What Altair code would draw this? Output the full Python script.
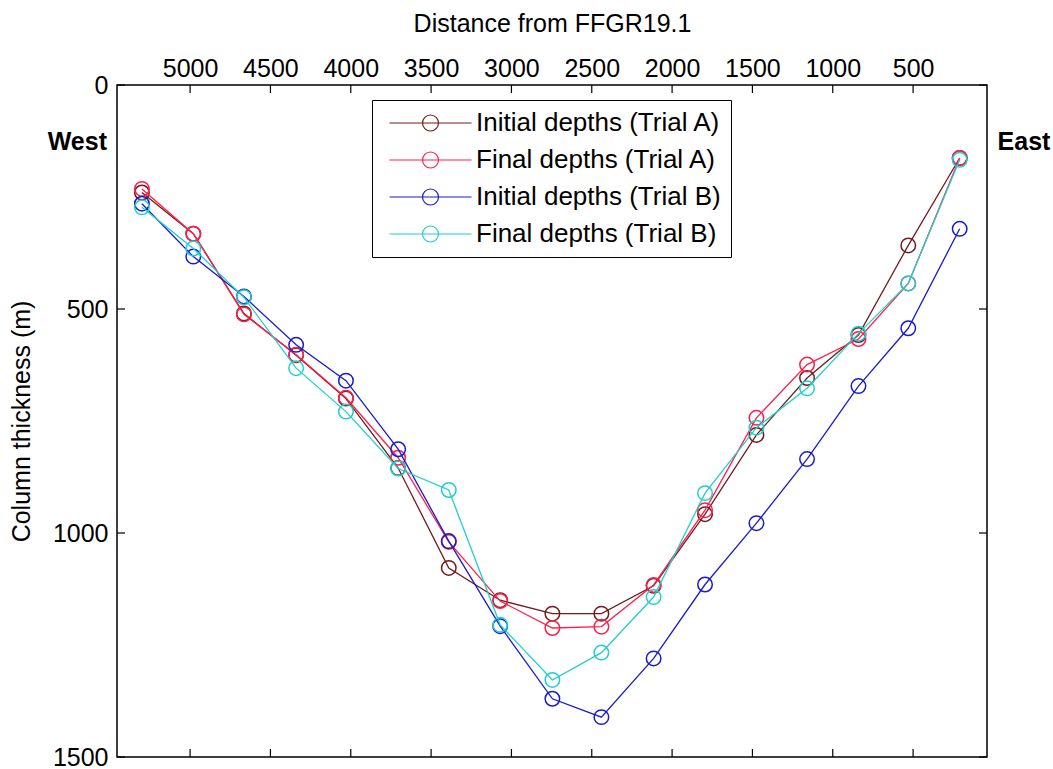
import altair as alt
import pandas as pd

# ---- data ----
distance = [5300, 4980, 4665, 4340, 4030, 3705, 3390, 3070, 2745, 2440, 2115, 1795, 1475, 1160, 840, 530, 210]
initial_a = [240, 332, 510, 603, 700, 855, 1078, 1150, 1180, 1180, 1118, 958, 781, 654, 558, 358, 163]
final_a = [232, 332, 512, 602, 698, 832, 1020, 1152, 1212, 1209, 1116, 949, 743, 624, 567, 443, 163]
initial_b = [265, 383, 472, 580, 660, 813, 1018, 1208, 1370, 1411, 1280, 1115, 978, 835, 672, 543, 321]
final_b = [273, 365, 474, 632, 729, 856, 904, 1205, 1328, 1267, 1143, 911, 765, 677, 555, 443, 167]

series_names = ["Initial depths (Trial A)", "Final depths (Trial A)",
                "Initial depths (Trial B)", "Final depths (Trial B)"]
series_values = [initial_a, final_a, initial_b, final_b]
series_colors = ["#701C1C", "#FF1F4B", "#1A1ACF", "#1FCFCF"]

x_ticks = [5000, 4500, 4000, 3500, 3000, 2500, 2000, 1500, 1000, 500]
y_ticks = [0, 500, 1000, 1500]

rows = []
for name, vals in zip(series_names, series_values):
    for d, v in zip(distance, vals):
        rows.append({"series": name, "distance": d, "thickness": v})
df = pd.DataFrame(rows)

FONT = "Liberation Sans"
W, H = 870, 672

xscale = alt.Scale(domain=[5455, 40], nice=False, zero=False)
yscale = alt.Scale(domain=[0, 1500], reverse=True, nice=False)
cscale = alt.Scale(domain=series_names, range=series_colors)

# legend glyph: a line with an open circle on it (units of 10 px, origin 10.5 px into the entry)
legend_symbol = "M-0.55,0L7.65,0M4.35,0A0.8,0.8,0,1,1,2.75,0A0.8,0.8,0,1,1,4.35,0"

color_enc = alt.Color(
    "series:N", scale=cscale, sort=series_names, title=None,
    legend=alt.Legend(
        orient="none", legendX=255, legendY=15,
        symbolType=legend_symbol, symbolSize=400, symbolStrokeWidth=1.2,
        symbolFillColor="transparent",
        labelFont=FONT, labelFontSize=26, labelColor="black", labelOffset=68,
        labelLimit=400, rowPadding=11,
        strokeColor="black", fillColor="white", padding=10, cornerRadius=0,
    ),
)

x_enc = alt.X("distance:Q", scale=xscale,
              axis=alt.Axis(orient="top", values=x_ticks, format="d", title="Distance from FFGR19.1",
                            ticks=False, domain=False, grid=False,
                            labelFont=FONT, labelFontSize=25, labelColor="black",
                            labelPadding=4, titleFont=FONT, titleFontSize=25,
                            titleFontWeight="normal", titleColor="black", titlePadding=20))
y_enc = alt.Y("thickness:Q", scale=yscale,
              axis=alt.Axis(orient="left", values=y_ticks, format="d", title="Column thickness (m)",
                            ticks=False, domain=False, grid=False,
                            labelFont=FONT, labelFontSize=25, labelColor="black",
                            labelPadding=9, titleFont=FONT, titleFontSize=25,
                            titleFontWeight="normal", titleColor="black", titlePadding=18))

base = alt.Chart(df)
layers = []
for name in series_names:
    sub = base.transform_filter(alt.datum.series == name)
    layers.append(sub.mark_line(strokeWidth=1.3).encode(x=x_enc, y=y_enc, color=color_enc))
    layers.append(sub.mark_point(shape="circle", size=210, filled=False, strokeWidth=1.5,
                                 opacity=1).encode(x=x_enc, y=y_enc, color=color_enc))

xt = pd.DataFrame({"t": x_ticks})
yt = pd.DataFrame({"t": y_ticks})
tick_x = alt.X("t:Q", scale=xscale)
tick_y = alt.Y("t:Q", scale=yscale)
ticks_top = alt.Chart(xt).mark_rule(color="black", strokeWidth=1.2).encode(
    x=tick_x, y=alt.value(0), y2=alt.value(8))
ticks_bottom = alt.Chart(xt).mark_rule(color="black", strokeWidth=1.2).encode(
    x=tick_x, y=alt.value(H), y2=alt.value(H - 8))
ticks_left = alt.Chart(yt).mark_rule(color="black", strokeWidth=1.2).encode(
    y=tick_y, x=alt.value(0), x2=alt.value(8))
ticks_right = alt.Chart(yt).mark_rule(color="black", strokeWidth=1.2).encode(
    y=tick_y, x=alt.value(W), x2=alt.value(W - 8))

notes = pd.DataFrame({"label": ["West", "East"], "side": ["w", "e"]})
west = alt.Chart(notes).transform_filter(alt.datum.side == "w").mark_text(
    font=FONT, fontSize=25, fontWeight="bold", color="black", align="right", baseline="middle"
).encode(text="label:N", x=alt.value(-10), y=alt.value(57))
east = alt.Chart(notes).transform_filter(alt.datum.side == "e").mark_text(
    font=FONT, fontSize=25, fontWeight="bold", color="black", align="center", baseline="middle"
).encode(text="label:N", x=alt.value(907), y=alt.value(57))

chart = alt.layer(*layers, ticks_top, ticks_bottom, ticks_left, ticks_right, west, east).properties(
    width=W, height=H,
    autosize=alt.AutoSizeParams(type="none"),
    padding={"left": 117, "top": 85, "right": 66, "bottom": 12},
    background="white",
).configure_view(stroke="black", strokeWidth=1.5)

chart.save("out.html", embed_options={"renderer": "svg", "actions": False})
